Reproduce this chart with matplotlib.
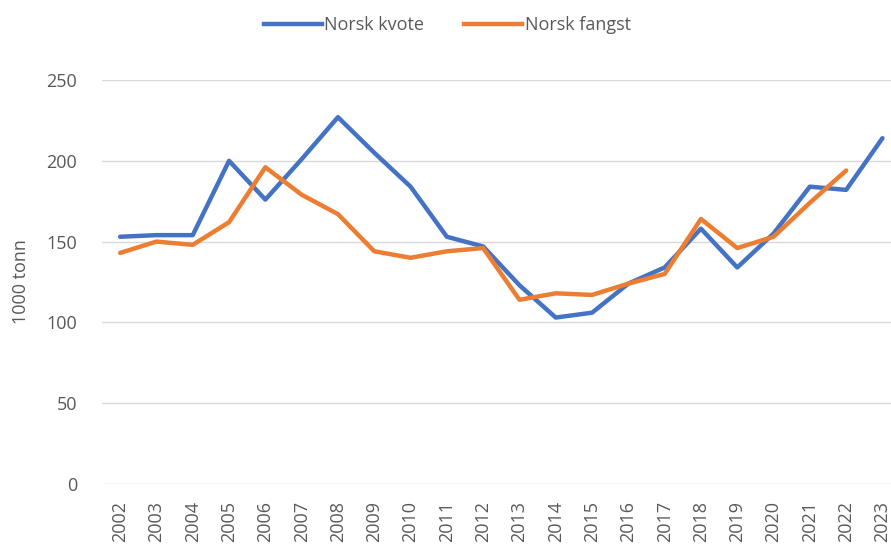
import matplotlib
matplotlib.use("Agg")
import matplotlib.pyplot as plt
from matplotlib.lines import Line2D

plt.rcParams['font.family'] = ['Open Sans', 'DejaVu Sans']

years = [str(y) for y in range(2002, 2024)]
kvote = [153, 154, 154, 200, 176, 201, 227, 205, 184, 153, 147, 123,
         103, 106, 124, 134, 158, 134, 155, 184, 182, 214]
fangst = [143, 150, 148, 162, 196, 179, 167, 144, 140, 144, 146, 114,
          118, 117, 124, 130, 164, 146, 153, 174, 194]

BLUE = '#4472C4'
ORANGE = '#ED7D31'
GREY = '#595959'

fig = plt.figure(figsize=(8.91, 5.45), dpi=100)
ax = fig.add_axes([102/891, 61/545, 798.6/891, 404/545])

ax.plot(range(len(kvote)), kvote, color=BLUE, lw=3.2, solid_capstyle='round', solid_joinstyle='round')
ax.plot(range(len(fangst)), fangst, color=ORANGE, lw=3.2, solid_capstyle='round', solid_joinstyle='round')

ax.set_xlim(-0.5, len(years) - 0.5)
ax.set_ylim(0, 250)
ax.set_yticks(range(0, 251, 50))
ax.set_xticks(range(len(years)))
ax.set_xticklabels(years, rotation=90)
ax.grid(axis='y', color='#D9D9D9', lw=1)
ax.set_axisbelow(True)
for s in ax.spines.values():
    s.set_visible(False)
ax.tick_params(length=0, labelsize=13, labelcolor=GREY)
ax.tick_params(axis='y', pad=18)
ax.tick_params(axis='x', pad=12)
ax.set_ylabel('1000 tonn', fontsize=13, color=GREY)
ax.yaxis.set_label_coords(-72/798.6, 0.5)

handles = [Line2D([], [], color=BLUE, lw=3.2), Line2D([], [], color=ORANGE, lw=3.2)]
fig.legend(handles, ['Norsk kvote', 'Norsk fangst'], loc='center', ncol=2,
           bbox_to_anchor=(0.502, 0.954), frameon=False, fontsize=13,
           labelcolor=GREY, handlelength=3.2, handletextpad=0.15, columnspacing=2.2)

fig.savefig('out.png', dpi=100)
